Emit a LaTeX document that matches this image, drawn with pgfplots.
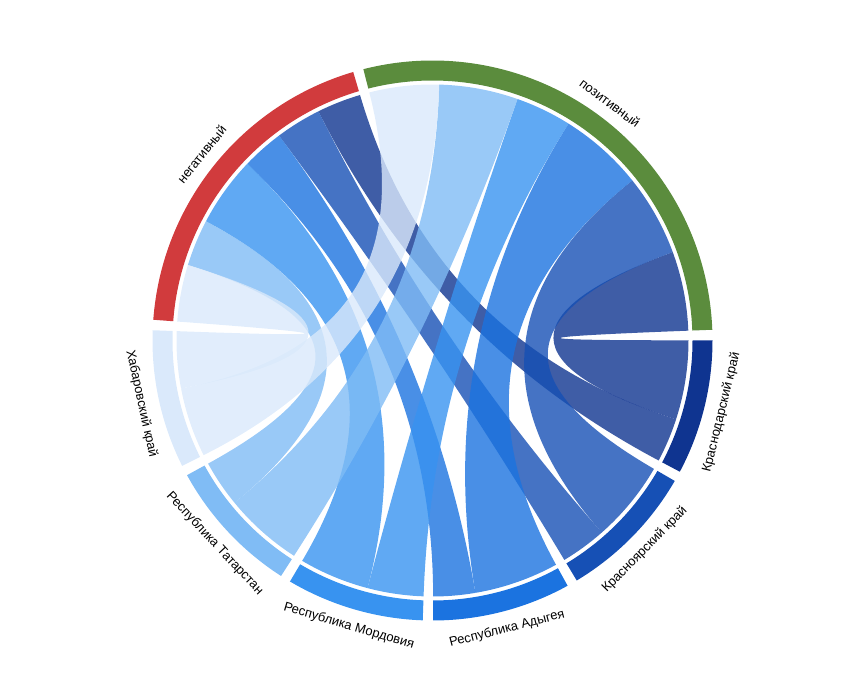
\documentclass[border=0pt]{standalone}
\usepackage{fontspec}
\setmainfont{Liberation Sans}
\usepackage{pgfplots}
\usepackage{pgfplotstable}
\pgfplotsset{compat=1.18}

\definecolor{cneg}{RGB}{209,59,61}
\definecolor{cpos}{RGB}{91,140,61}
\definecolor{c0}{RGB}{15,52,144}
\definecolor{c1}{RGB}{22,80,181}
\definecolor{c2}{RGB}{27,115,224}
\definecolor{c3}{RGB}{56,147,240}
\definecolor{c4}{RGB}{128,188,245}
\definecolor{c5}{RGB}{218,233,251}

% links: region -> позитивный (pos), region -> негативный (neg)
\pgfplotstableread[col sep=comma]{
region,pos,neg
Краснодарский край,18.0,10.0
Красноярский край,18.5,10.4
Республика Адыгея,19.2,9.5
Республика Мордовия,12.7,15.9
Республика Татарстан,17.9,10.6
Хабаровский край,15.8,12.9
}\chorddata

\newcommand\gapdeg{2.15}
\newcommand\startdeg{104.3}
\newcommand\Rrib{256}
\newcommand\Rin{260}
\newcommand\Rout{280}
\newcommand\Rlab{291.5}

\newcommand\ribbon[5]{%
  \fill[#5, fill opacity=0.8]
  (axis cs:{\Rrib*cos(#1)},{\Rrib*sin(#1)}) arc[start angle=#1, end angle=#2, radius=\Rrib pt]
  .. controls (axis cs:{\Rrib/3*cos(#2)},{\Rrib/3*sin(#2)}) and (axis cs:{\Rrib/3*cos(#3)},{\Rrib/3*sin(#3)}) ..
  (axis cs:{\Rrib*cos(#3)},{\Rrib*sin(#3)}) arc[start angle=#3, end angle=#4, radius=\Rrib pt]
  .. controls (axis cs:{\Rrib/3*cos(#4)},{\Rrib/3*sin(#4)}) and (axis cs:{\Rrib/3*cos(#1)},{\Rrib/3*sin(#1)}) ..
  (axis cs:{\Rrib*cos(#1)},{\Rrib*sin(#1)}) -- cycle;}

\newcommand\ringseg[3]{%
  \fill[#3] (axis cs:{\Rout*cos(#1)},{\Rout*sin(#1)}) arc[start angle=#1, end angle=#2, radius=\Rout pt]
  -- (axis cs:{\Rin*cos(#2)},{\Rin*sin(#2)}) arc[start angle=#2, end angle=#1, radius=\Rin pt] -- cycle;}

\newcommand\seglabel[3]{%
  \pgfmathsetmacro\midang{(#1+#2)/2}%
  \pgfmathtruncatemacro\isup{sin(\midang)>0 ? 1 : 0}%
  \ifnum\isup=1
    \node[rotate={\midang-90}, anchor=south, inner sep=0pt, font=\fontsize{13}{15}\selectfont]
      at (axis cs:{\Rlab*cos(\midang)},{\Rlab*sin(\midang)}) {#3};
  \else
    \node[rotate={\midang+90}, anchor=north, inner sep=0pt, font=\fontsize{13}{15}\selectfont]
      at (axis cs:{\Rlab*cos(\midang)},{\Rlab*sin(\midang)}) {#3};
  \fi}

\begin{document}
\begin{tikzpicture}
% ---- layout computed from the table ----
\xdef\sumP{0}\xdef\sumN{0}
\foreach \i in {0,...,5}{%
  \pgfplotstablegetelem{\i}{pos}\of\chorddata
  \expandafter\xdef\csname vp\i\endcsname{\pgfplotsretval}%
  \pgfmathsetmacro\tmp{\sumP+\pgfplotsretval}\xdef\sumP{\tmp}%
  \pgfplotstablegetelem{\i}{neg}\of\chorddata
  \expandafter\xdef\csname vn\i\endcsname{\pgfplotsretval}%
  \pgfmathsetmacro\tmp{\sumN+\pgfplotsretval}\xdef\sumN{\tmp}%
}
\pgfmathsetmacro\kdeg{(360-8*\gapdeg)/(2*(\sumP+\sumN))}\xdef\kdeg{\kdeg}
\pgfmathsetmacro\posB{\startdeg-\kdeg*\sumP}\xdef\posB{\posB}
\pgfmathsetmacro\cur{\posB-\gapdeg}\xdef\cur{\cur}
\foreach \i in {0,...,5}{%
  \expandafter\xdef\csname ra\i\endcsname{\cur}%
  \pgfmathsetmacro\tmp{\cur-\kdeg*\csname vp\i\endcsname}%
  \expandafter\xdef\csname rm\i\endcsname{\tmp}%
  \pgfmathsetmacro\tmp{\tmp-\kdeg*\csname vn\i\endcsname}%
  \expandafter\xdef\csname rb\i\endcsname{\tmp}%
  \pgfmathsetmacro\tmp{\tmp-\gapdeg}\xdef\cur{\tmp}%
}
\xdef\negA{\cur}
\pgfmathsetmacro\negB{\negA-\kdeg*\sumN}\xdef\negB{\negB}
\xdef\cur{\startdeg}
\foreach \i in {5,4,...,0}{%
  \expandafter\xdef\csname psa\i\endcsname{\cur}%
  \pgfmathsetmacro\tmp{\cur-\kdeg*\csname vp\i\endcsname}\xdef\cur{\tmp}%
  \expandafter\xdef\csname psb\i\endcsname{\cur}%
}
\xdef\cur{\negA}
\foreach \i in {5,4,...,0}{%
  \expandafter\xdef\csname nsa\i\endcsname{\cur}%
  \pgfmathsetmacro\tmp{\cur-\kdeg*\csname vn\i\endcsname}\xdef\cur{\tmp}%
  \expandafter\xdef\csname nsb\i\endcsname{\cur}%
}
\begin{axis}[
  x=1pt, y=1pt,
  xmin=-432.5, xmax=431.5, ymin=-340.5, ymax=340.5,
  hide axis, clip=false,
]
\pgfplotsextra{
  \path (axis cs:-432.5,-340.5) rectangle (axis cs:431.5,340.5);
  \foreach \i in {0,...,5}{%
    \ribbon{\csname psa\i\endcsname}{\csname psb\i\endcsname}{\csname ra\i\endcsname}{\csname rm\i\endcsname}{c\i}
    \ribbon{\csname nsa\i\endcsname}{\csname nsb\i\endcsname}{\csname rm\i\endcsname}{\csname rb\i\endcsname}{c\i}
  }
  \ringseg{\startdeg}{\posB}{cpos}
  \ringseg{\negA}{\negB}{cneg}
  \foreach \i in {0,...,5}{%
    \ringseg{\csname ra\i\endcsname}{\csname rb\i\endcsname}{c\i}
  }
  \seglabel{\startdeg}{\posB}{позитивный}
  \seglabel{\negA}{\negB}{негативный}
  \foreach \i in {0,...,5}{%
    \pgfplotstablegetelem{\i}{region}\of\chorddata
    \let\regname\pgfplotsretval
    \seglabel{\csname ra\i\endcsname}{\csname rb\i\endcsname}{\regname}
  }
}
\end{axis}
\end{tikzpicture}
\end{document}
